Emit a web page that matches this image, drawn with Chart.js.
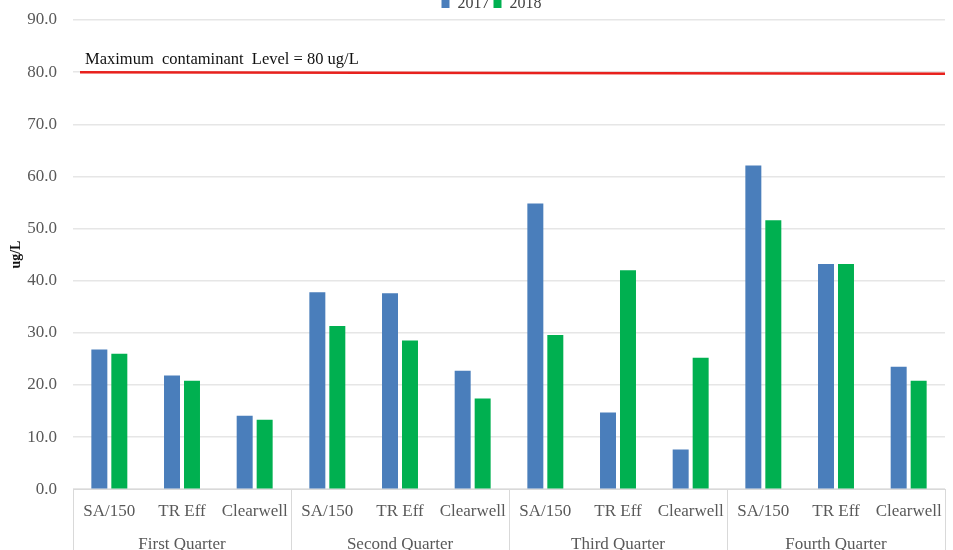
<!DOCTYPE html>
<html>
<head>
<meta charset="utf-8">
<script src="https://cdn.jsdelivr.net/npm/chart.js@4.4.0/dist/chart.umd.min.js"></script>
<style>
  html, body { margin: 0; padding: 0; background: #fff; overflow: hidden; }
  #wrap { position: absolute; left: 0; top: -10px; width: 953px; height: 566px; }
</style>
</head>
<body>
<div id="wrap"><canvas id="chart"></canvas></div>
<script>
// data
const quarters = ["First Quarter", "Second Quarter", "Third Quarter", "Fourth Quarter"];
const sites = ["SA/150", "TR Eff", "Clearwell"];
const years = ["2017", "2018"];
const values2017 = [26.8, 21.8, 14.1, 37.8, 37.6, 22.7, 54.8, 14.7, 7.6, 62.1, 43.2, 23.5];
const values2018 = [26.0, 20.8, 13.3, 31.3, 28.5, 17.4, 29.6, 42.0, 25.2, 51.6, 43.2, 20.8];
const yTicks = [0, 10, 20, 30, 40, 50, 60, 70, 80, 90];
const mclLevel = 80;
const mclText = "Maximum  contaminant  Level = 80 ug/L";

const siteLabels = quarters.flatMap(() => sites);
const serif = "'Liberation Serif', 'Times New Roman', serif";

// red MCL line + its label, and the quarter separators under the axis
const extras = {
  id: "extras",
  afterLayout(chart) {
    // legend sits a little right of the canvas centre in the original
    chart.legend.left += 17;
    chart.legend.right += 17;
    chart.legend.top += 2;
    chart.legend.bottom += 2;
  },
  afterDatasetsDraw(chart) {
    const { ctx, chartArea, scales } = chart;
    const y = scales.y.getPixelForValue(mclLevel);
    ctx.save();
    ctx.strokeStyle = "#e8211d";
    ctx.lineWidth = 2.5;
    ctx.beginPath();
    ctx.moveTo(chartArea.left + 7, y);
    ctx.lineTo(chartArea.right, y + 1.5);
    ctx.stroke();
    ctx.fillStyle = "#111";
    ctx.font = "16.5px " + serif;
    ctx.textBaseline = "bottom";
    ctx.fillText(mclText, chartArea.left + 12, y - 4);

    const x = scales.x;
    const step = (x.right - x.left) / siteLabels.length;
    ctx.strokeStyle = "#d9d9d9";
    ctx.lineWidth = 1;
    for (let q = 0; q <= quarters.length; q++) {
      const px = Math.round(x.left + q * sites.length * step) + 0.5;
      ctx.beginPath();
      ctx.moveTo(px, chartArea.bottom);
      ctx.lineTo(px, chart.height);
      ctx.stroke();
    }
    ctx.restore();
  }
};

new Chart(document.getElementById("chart"), {
  type: "bar",
  data: {
    labels: siteLabels,
    datasets: [
      { label: years[0], data: values2017, backgroundColor: "#4a7ebb" },
      { label: years[1], data: values2018, backgroundColor: "#00b050" }
    ]
  },
  options: {
    responsive: true,
    maintainAspectRatio: false,
    animation: false,
    layout: { padding: { left: 4, right: 8, bottom: 0 } },
    datasets: { bar: { barPercentage: 0.8, categoryPercentage: 0.55 } },
    plugins: {
      tooltip: { enabled: false },
      legend: {
        position: "top",
        labels: {
          boxWidth: 8, boxHeight: 8, padding: 4,
          color: "#404040",
          font: { family: serif, size: 16 }
        }
      }
    },
    scales: {
      x: {
        grid: { display: false },
        border: { color: "#d9d9d9" },
        ticks: {
          color: "#595959", padding: 4, maxRotation: 0, autoSkip: false,
          font: { family: serif, size: 17 }
        }
      },
      x2: {
        type: "category",
        labels: quarters,
        position: "bottom",
        offset: true,
        grid: { display: false },
        border: { display: false },
        ticks: {
          color: "#595959", padding: 1, maxRotation: 0,
          font: { family: serif, size: 17 }
        }
      },
      y: {
        min: 0, max: 90,
        afterBuildTicks(scale) { scale.ticks = yTicks.map(v => ({ value: v })); },
        afterFit(scale) { scale.width = 69; },
        grid: { color: "#e6e6e6", lineWidth: 1.5, drawTicks: false },
        border: { display: false },
        ticks: {
          color: "#595959", padding: 16,
          font: { family: serif, size: 17 },
          callback: v => Number(v).toFixed(1)
        },
        title: {
          display: true, text: "ug/L", color: "#111",
          font: { family: serif, size: 14, weight: "bold" }
        }
      }
    }
  },
  plugins: [extras]
});
</script>
</body>
</html>
